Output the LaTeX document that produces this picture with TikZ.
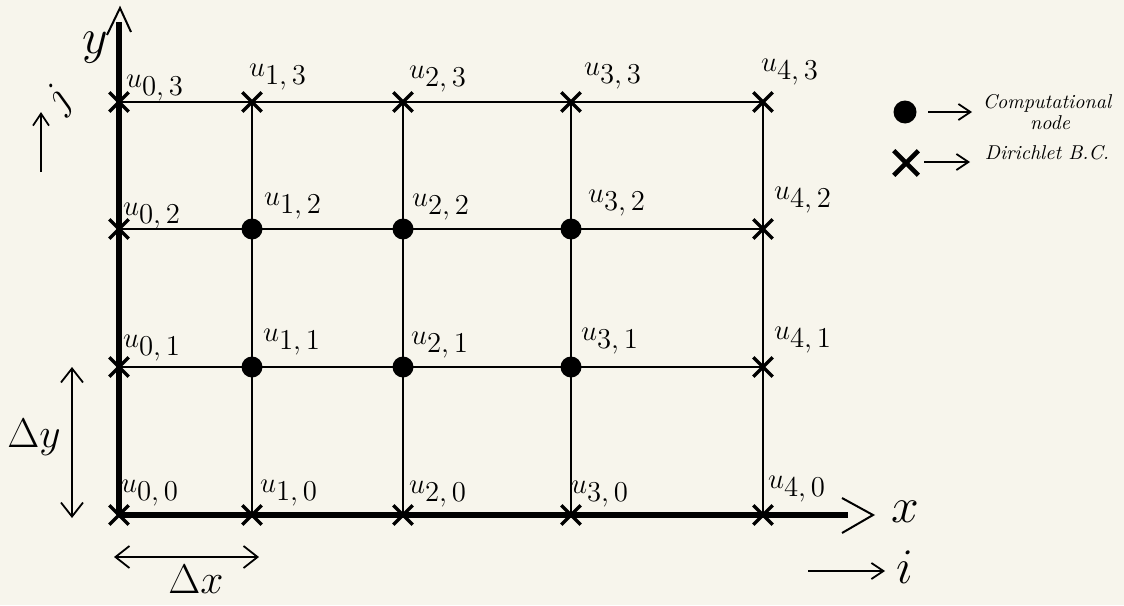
\documentclass[tikz,border=0pt]{standalone}
\usetikzlibrary{shapes.misc,arrows.meta}
\definecolor{paper}{HTML}{F7F5EC}
\begin{document}
\begin{tikzpicture}[x=0.5pt,y=-0.5pt,
  gridline/.style={line width=1pt},
  axisline/.style={line width=2.6pt},
  bcmark/.style={draw, cross out, minimum size=8pt, inner sep=0pt, line width=1.7pt},
  compmark/.style={circle, fill, inner sep=0pt, minimum size=10.5pt},
  ulab/.style={font=\Large, inner sep=0pt},
  legtext/.style={font=\normalsize\itshape, inner sep=0pt},
  smallbarb/.style={-{Straight Barb[length=6pt,width=8pt,line width=0.9pt]}, line width=0.9pt},
  dimbarb/.style={{Straight Barb[length=7pt,width=11pt,line width=0.9pt]}-{Straight Barb[length=7pt,width=11pt,line width=0.9pt]}, line width=0.9pt}]
\fill[paper] (0,0) rectangle (1124,605);
\useasboundingbox (0,0) rectangle (1124,605);

% grid coordinates
\foreach \i/\x in {0/119,1/252,2/403,3/571,4/763}{
  \foreach \j/\y in {0/515,1/367,2/229,3/102}{
    \coordinate (p-\i-\j) at (\x,\y);
  }
}
\coordinate (ytop) at (119,22);
\coordinate (xend) at (848,515);

% thin grid lines
\foreach \j in {1,2,3}{\draw[gridline] (p-0-\j) -- (p-4-\j);}
\foreach \i in {1,2,3,4}{\draw[gridline] (p-\i-0) -- (p-\i-3);}

% axes
\draw[axisline] (p-0-0) -- (ytop);
\draw[axisline] (p-0-0) -- (xend);
\draw[line width=1pt] (107,35) -- (120,8) -- (131,32);
\draw[line width=1pt] (842,498) -- (873,515) -- (842,533);
\node[font=\fontsize{34}{36}\selectfont, inner sep=0pt] (ylab) at (95,48) {$y$};
\node[font=\fontsize{34}{36}\selectfont, inner sep=0pt] (xlab) at (905,512) {$x$};

% index arrows
\coordinate (ja) at (41,172);
\coordinate (jb) at (41,112);
\draw[smallbarb] (ja) -- (jb);
\node[font=\fontsize{22}{24}\selectfont, rotate=50, inner sep=0pt] (jlab) at (60,100) {$j$};
\coordinate (ia) at (808,571);
\coordinate (ib) at (885,571);
\draw[smallbarb] (ia) -- (ib);
\node[font=\fontsize{26}{28}\selectfont, inner sep=0pt] (ilab) at (905,567) {$i$};

% spacing arrows
\coordinate (dya) at (72,367);
\coordinate (dyb) at (72,518);
\draw[dimbarb] (dya) -- (dyb);
\node[font=\fontsize{22}{24}\selectfont, inner sep=0pt] (dylab) at (34,437) {$\Delta y$};
\coordinate (dxa) at (114,557);
\coordinate (dxb) at (259,557);
\draw[dimbarb] (dxa) -- (dxb);
\node[font=\fontsize{22}{24}\selectfont, inner sep=0pt] (dxlab) at (196,579) {$\Delta x$};

% markers: boundary crosses
\foreach \i/\j in {0/0,1/0,2/0,3/0,4/0,0/1,4/1,0/2,4/2,0/3,1/3,2/3,3/3,4/3}{
  \node[bcmark] (m-\i-\j) at (p-\i-\j) {};
}
% interior computational nodes
\foreach \i/\j in {1/1,2/1,3/1,1/2,2/2,3/2}{
  \node[compmark] (m-\i-\j) at (p-\i-\j) {};
}

% labels
\foreach \i/\j/\x/\y in {0/3/155/88,1/3/278/77,2/3/438/79,3/3/613/76,4/3/790/72,
  0/2/152/216,1/2/293/206,2/2/441/207,3/2/617/203,4/2/803/200,
  0/1/152/348,1/1/292/342,2/1/440/345,3/1/610/341,4/1/803/340,
  0/0/150/493,1/0/289/493,2/0/438/494,3/0/600/494,4/0/797/489}{
  \node[ulab] (l-\i-\j) at (\x,\y) {$u_{\textstyle \i,\j}$};
}

% legend
\node[compmark, minimum size=11.5pt] (legdot) at (905,112) {};
\coordinate (la1) at (928,112);
\coordinate (la2) at (972,112);
\draw[smallbarb] (la1) -- (la2);
\node[legtext] (legtxt1) at (1047,103) {Computational};
\node[legtext] (legtxt1b) at (1050,123) {node};
\node[draw, cross out, minimum size=10pt, inner sep=0pt, line width=2.3pt] (legx) at (906,163) {};
\coordinate (lb1) at (924,162);
\coordinate (lb2) at (970,162);
\draw[smallbarb] (lb1) -- (lb2);
\node[legtext] (legtxt2) at (1047,153) {Dirichlet B.C.};
\end{tikzpicture}
\end{document}
